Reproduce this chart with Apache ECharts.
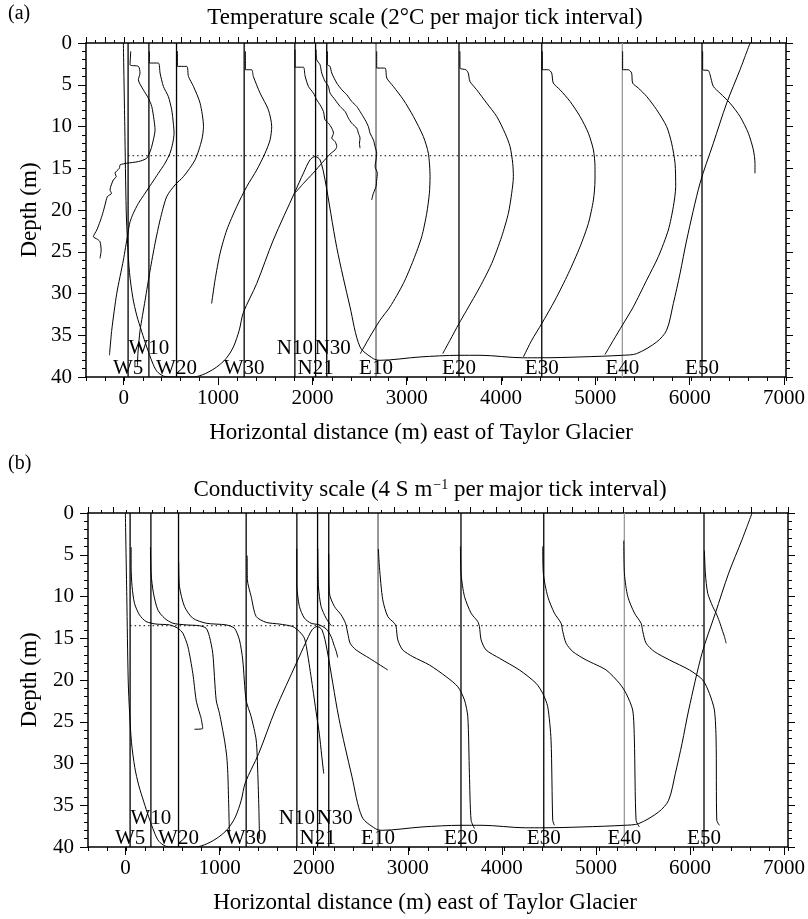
<!DOCTYPE html>
<html><head><meta charset="utf-8">
<script src="https://cdn.jsdelivr.net/npm/echarts@6/dist/echarts.min.js"></script>
<style>html,body{margin:0;padding:0;background:#fff}#c{width:808px;height:919px}</style>
</head><body><div id="c"></div>
<script>
// ---------- DATA ----------
const stationNames = ['W5','W10','W20','W30','N10','N21','N30','E10','E20','E30','E40','E50'];
const stationX = [45,265,557,1272,1808,2027,2145,2666,3543,4418,5270,6112];
const xTickLabels = [0,1000,2000,3000,4000,5000,6000,7000];
const depthTickLabels = [0,5,10,15,20,25,30,35,40];
const chemoclineDepth = 13.5;

// lake-bottom / transect line [x (m), depth (m)]
const bottomLine = [[-5,0],[10,10],[25,20],[40,24],[60,27.5],[95,30.5],[136,32.6],[190,34.6],[242,36.4],[300,38.2],[348,39.3],[420,39.9],[488,40],[735,40],[860,39.6],[982,38.8],[1080,37.8],[1158,36.4],[1220,34.4],[1263,32.3],[1405,28.8],[1580,23.6],[1810,17.8],[1898,15.6],[1968,14.0],[2021,13.6],[2074,14.0],[2127,16.4],[2251,24.5],[2391,31.6],[2497,36.4],[2638,37.8],[2708,38.0],[3131,37.6],[3543,37.4],[3765,37.4],[4223,37.7],[4418,37.7],[4823,37.6],[5270,37.4],[5421,37.2],[5633,35.8],[5738,34.4],[5809,31.2],[5880,27.6],[5950,23.6],[6091,16.8],[6232,12.0],[6373,7.2],[6514,3.2],[6620,0]];

// (a) temperature profiles, plotted position [x (m), depth (m)]
const tempW5 = [[73,1.0],[66,2.6],[154,2.8],[171,3.6],[154,4.4],[206,5.6],[259,6.6],[295,7.6],[319,9.2],[330,10.4],[312,11.6],[284,12.8],[242,13.8],[154,14.2],[31,14.4],[-40,14.6],[-47,15.0],[-93,15.6],[-80,16.0],[-111,16.4],[-146,17.6],[-130,18.0],[-174,18.4],[-199,19.4],[-223,20.4],[-252,21.4],[-286,22.4],[-322,23.2],[-280,23.5],[-252,23.8],[-240,24.8],[-252,25.8]];
const tempW10 = [[270,1.0],[270,2.4],[365,2.4],[383,3.6],[418,5.2],[470,6.4],[506,8.0],[523,9.6],[531,10.8],[517,12.0],[488,13.2],[435,14.4],[365,15.6],[295,16.8],[224,18.0],[154,19.2],[100,20.4],[66,21.4],[40,23.0],[-5,26],[-75,30],[-128,34.4],[-152,37.4]];
const tempW20 = [[566,1.0],[566,2.8],[665,2.8],[683,4.0],[736,5.2],[806,7.2],[842,10.0],[824,11.6],[753,14.0],[630,16.0],[541,17.0],[453,18.4],[383,21.2],[330,24.0],[278,27.2],[225,30.8],[172,34.4],[150,37.0],[143,38.7]];
const tempW30 = [[1285,1.0],[1285,3.2],[1351,3.2],[1369,4.0],[1440,6.0],[1528,8.0],[1563,10.0],[1546,11.6],[1493,13.2],[1405,15.2],[1299,17.2],[1193,19.6],[1088,22.4],[1017,25.2],[964,28.4],[928,31.2]];
const tempN10 = [[1810,0.8],[1810,2.9],[1898,2.9],[1915,3.9],[1951,5.2],[2004,6.0],[2039,6.8],[2074,7.4],[2110,8.2],[2127,9.2],[2163,9.6],[2198,10.2],[2216,10.8],[2198,11.4],[2233,11.8],[2251,12.4],[2233,12.8],[2180,13.3],[2100,14.3],[2000,15.6],[1900,16.8],[1815,17.9]];
const tempN21 = [[2032,0.8],[2039,2.0],[2074,2.6],[2092,3.6],[2127,4.6],[2163,5.2],[2180,6.0],[2233,6.8],[2286,7.6],[2339,8.2],[2374,9.0],[2409,9.6],[2462,10.2],[2480,10.8],[2497,11.4],[2491,12.0],[2497,12.6]];
const tempN30 = [[2152,1.0],[2152,2.6],[2180,2.8],[2198,3.6],[2251,4.8],[2304,5.6],[2357,6.2],[2409,7.0],[2462,7.6],[2497,8.2],[2550,9.2],[2585,10.0],[2603,10.8],[2638,11.6],[2656,12.4],[2673,13.2],[2666,14.0],[2656,14.8],[2680,15.6],[2673,16.4],[2666,17.2],[2638,18.0],[2620,18.8]];
const tempE10 = [[2673,1.0],[2673,3.0],[2761,3.0],[2780,4.2],[2849,5.2],[2955,6.8],[3061,8.8],[3166,11.2],[3219,13.2],[3237,16.0],[3230,18.0],[3202,20.4],[3149,23.2],[3061,26.0],[2955,28.8],[2814,31.6],[2708,33.2],[2600,35.2],[2500,37.2]];
const tempE20 = [[3553,1.0],[3553,3.0],[3616,3.2],[3641,3.6],[3659,4.6],[3730,5.6],[3836,7.2],[3942,8.8],[4030,10.8],[4083,12.4],[4111,14.4],[4118,16.0],[4100,18.0],[4065,20.4],[3994,23.2],[3889,26.4],[3765,29.2],[3624,32.0],[3543,33.6],[3448,35.6],[3371,37.2]];
const tempE30 = [[4424,1.0],[4424,3.2],[4488,3.2],[4523,3.6],[4540,4.8],[4611,5.6],[4717,7.0],[4823,8.8],[4911,10.8],[4964,12.8],[4981,14.8],[4981,16.4],[4964,18.8],[4911,21.6],[4823,24.4],[4699,27.6],[4558,30.8],[4418,33.6],[4312,35.6],[4224,37.6]];
const tempE40 = [[5273,1.0],[5273,3.2],[5333,3.2],[5368,3.6],[5379,4.8],[5439,5.4],[5527,6.4],[5633,8.0],[5738,10.0],[5791,12.0],[5827,14.4],[5834,17.2],[5809,19.6],[5756,22.4],[5650,25.6],[5527,28.4],[5386,31.6],[5270,33.8],[5175,35.6],[5087,37.3]];
const tempE50 = [[6119,1.0],[6119,3.2],[6179,3.3],[6197,3.8],[6232,5.2],[6302,6.0],[6408,7.2],[6514,8.8],[6602,10.8],[6655,12.8],[6672,14.4],[6672,15.6]];

// (b) conductivity profiles, plotted position [x (m), depth (m)]
const condW5 = [[56,4.1],[56,6.5],[66,8.8],[91,10.8],[144,12.2],[214,13.0],[320,13.3],[462,13.4],[550,13.8],[603,14.4],[656,16.0],[708,19.2],[743,22.4],[770,23.6],[796,24.6],[813,25.8],[725,25.9]];
const condW10 = [[260,4.1],[267,7.3],[292,9.6],[338,11.6],[409,12.6],[497,13.2],[638,13.4],[779,13.5],[849,13.8],[884,14.8],[919,16.8],[955,22.4],[990,24.0],[1043,27.2],[1067,29.2],[1078,31.2],[1088,35.2],[1095,38.4]];
const condW20 = [[559,5.9],[567,8.8],[620,11.2],[708,12.6],[849,13.2],[1060,13.4],[1148,13.8],[1201,15.2],[1236,17.6],[1271,22.4],[1325,24.4],[1378,27.2],[1395,31.2],[1406,35.2],[1413,39.0]];
const condW30 = [[1283,5.1],[1285,8.0],[1325,10.0],[1378,12.4],[1484,13.1],[1624,13.3],[1765,13.6],[1835,14.2],[1888,15.0],[1923,17.0],[1950,19.0],[1976,21.0],[2011,23.8],[2046,26.5],[2070,29.0],[2092,31.2]];
const condN10 = [[1807,4.3],[1807,8.4],[1835,11.2],[1888,12.6],[1958,13.2],[2046,13.4],[2120,13.9],[2170,14.8],[2200,15.8],[2225,16.6],[2240,17.3]];
const condN21 = [[2029,4.3],[2036,8.8],[2064,11.2],[2117,12.6],[2152,13.2],[2175,13.5]];
const condN30 = [[2145,4.9],[2152,9.6],[2205,11.2],[2276,12.2],[2322,13.2],[2346,14.4],[2371,15.6],[2434,16.4],[2575,17.4],[2769,18.8]];
const condE10 = [[2670,4.3],[2681,6.5],[2716,10.4],[2769,12.4],[2839,13.2],[2857,13.6],[2875,15.2],[2927,16.4],[3033,17.2],[3209,18.2],[3386,19.6],[3509,20.8],[3580,22.4],[3615,24.4],[3632,31.2],[3650,36.8],[3686,37.8]];
const condE20 = [[3537,4.0],[3544,7.3],[3580,10.0],[3650,12.0],[3720,13.0],[3738,13.6],[3756,15.2],[3808,16.4],[3950,17.4],[4161,18.8],[4337,20.4],[4407,21.6],[4460,23.2],[4495,27.2],[4513,36.8],[4530,37.4]];
const condE30 = [[4407,4.0],[4414,7.3],[4460,10.0],[4531,12.0],[4601,13.2],[4619,14.2],[4654,15.6],[4725,16.6],[4866,17.6],[5077,18.8],[5218,20.4],[5288,21.6],[5358,23.6],[5376,27.2],[5394,36.8],[5429,37.6]];
const condE40 = [[5264,3.3],[5271,7.3],[5306,10.0],[5377,12.0],[5447,13.2],[5465,14.2],[5500,15.6],[5588,16.6],[5747,17.6],[5958,18.8],[6099,20.0],[6169,21.6],[6222,23.6],[6240,27.2],[6247,36.8],[6275,37.4]];
const condE50 = [[6116,4.5],[6127,7.3],[6151,9.6],[6204,11.2],[6240,12.0],[6275,13.0],[6310,14.2],[6328,14.8],[6346,15.6]];

const tempProfiles = [tempW5,tempW10,tempW20,tempW30,tempN10,tempN21,tempN30,tempE10,tempE20,tempE30,tempE40,tempE50];
const condProfiles = [condW5,condW10,condW20,condW30,condN10,condN21,condN30,condE10,condE20,condE30,condE40,condE50];

// ---------- CHART ----------
const F = 'Liberation Serif';
const BLACK = '#000';
const grids = [
  {left:86, top:43, width:700, height:334},
  {left:88, top:513, width:700, height:334}
];
const topTickInterval = [19, 25.5];

const xAxis = [], yAxis = [], series = [];
const allGrids = grids.concat(grids);
const lineStyle = {color:BLACK, width:1.5};

grids.forEach((g, i) => {
  xAxis.push({gridIndex:i, type:'value', position:'bottom', min:-400, max:7000, interval:200,
    axisLine:{show:true, onZero:false, lineStyle},
    axisTick:{show:true, length:4, lineStyle:{color:BLACK, width:1}},
    axisLabel:{show:false}, splitLine:{show:false}});
  xAxis.push({gridIndex:i, type:'value', position:'top', min:0, max:700, interval:topTickInterval[i],
    axisLine:{show:true, onZero:false, lineStyle},
    axisTick:{show:true, length:6, lineStyle:{color:BLACK, width:1}},
    minorTick:{show:true, splitNumber:2, length:3, lineStyle:{color:BLACK, width:1}},
    axisLabel:{show:false}, splitLine:{show:false}, minorSplitLine:{show:false}});
  yAxis.push({gridIndex:i, type:'value', position:'left', inverse:true, min:0, max:40, interval:5,
    axisLine:{show:true, onZero:false, lineStyle},
    axisTick:{show:true, length:8, lineStyle:{color:BLACK, width:1}},
    minorTick:{show:true, splitNumber:5, length:4, lineStyle:{color:BLACK, width:1}},
    axisLabel:{show:true, margin:14, color:BLACK, fontFamily:F, fontSize:21, formatter:v => String(v)},
    splitLine:{show:false}, minorSplitLine:{show:false}});
  yAxis.push({gridIndex:i, type:'value', position:'right', inverse:true, min:0, max:40, interval:5,
    axisLine:{show:true, onZero:false, lineStyle},
    axisTick:{show:true, length:7, lineStyle:{color:BLACK, width:1}},
    minorTick:{show:true, splitNumber:5, length:4, lineStyle:{color:BLACK, width:1}},
    axisLabel:{show:false}, splitLine:{show:false}, minorSplitLine:{show:false}});
});
grids.forEach((g, i) => {
  xAxis.push({gridIndex:2+i, type:'value', position:'bottom', min:-400, max:7000,
    axisLine:{show:false, onZero:false},
    axisTick:{show:true, length:8, customValues:xTickLabels, lineStyle:{color:BLACK, width:1}},
    axisLabel:{show:true, customValues:xTickLabels, margin:11, color:BLACK, fontFamily:F, fontSize:21, formatter:v => String(v)},
    splitLine:{show:false}});
  yAxis.push({gridIndex:2+i, type:'value', show:false, min:0, max:40, inverse:true});
});

function addLine(panel, data, opts) {
  opts = opts || {};
  series.push({type:'line', xAxisIndex:panel*2, yAxisIndex:panel*2, data,
    symbol:'none', showSymbol:false, smooth:opts.smooth === undefined ? 0.25 : opts.smooth,
    silent:true, z:opts.z || 3,
    lineStyle:{color:opts.color || BLACK, width:opts.width || 1, type:opts.type || 'solid'}});
}

[0,1].forEach(p => {
  stationNames.forEach((n, k) => {
    addLine(p, [[stationX[k],0],[stationX[k],40]], {
      smooth:0, z:2,
      color: n === 'E40' ? '#9a9a9a' : BLACK,
      width: n === 'E10' ? 0.8 : 1.3});
  });
  addLine(p, [[stationX[0], chemoclineDepth],[stationX[stationX.length-1], chemoclineDepth]],
    {smooth:0, type:[1.5,3], width:1});
  addLine(p, bottomLine, {smooth:0.3});
  (p === 0 ? tempProfiles : condProfiles).forEach(d => addLine(p, d, {smooth:0.25}));
  const upper = new Set(['W10','N10','N30']);
  series.push({type:'scatter', xAxisIndex:p*2, yAxisIndex:p*2, silent:true, z:5,
    symbol:'circle', symbolSize:0.01, itemStyle:{color:BLACK, opacity:1},
    data: stationNames.map((n,k) => ({value:[stationX[k], upper.has(n) ? 36.6 : 39.0], name:n,
      label:{offset: n === 'N30' ? [6,0] : [0,0]}})),
    label:{show:true, position:[0,0], align:'center', verticalAlign:'middle',
      formatter: q => q.name, color:BLACK, opacity:1,
      fontFamily:F, fontSize:21}});
});

const T = (txt, x, y, size, extra) => Object.assign({type:'text', x, y, silent:true,
  style:{text:txt, font:size + 'px "Liberation Serif"', fill:BLACK, textAlign:'center', textVerticalAlign:'middle'}}, extra || {});

const graphic = [
  {type:'text', x:8, y:14, style:{text:'(a)', font:'20px "Liberation Serif"', fill:BLACK, textVerticalAlign:'middle'}},
  {type:'text', x:8, y:464, style:{text:'(b)', font:'20px "Liberation Serif"', fill:BLACK, textVerticalAlign:'middle'}},
  T('Temperature scale (2°C per major tick interval)', 425, 18, 23),
  {type:'text', x:430, y:490, style:{text:'{a|Conductivity scale (4 S m}{s|−1}{a| per major tick interval)}', fill:BLACK, textAlign:'center', textVerticalAlign:'middle',
     rich:{a:{fontFamily:F, fontSize:23, color:BLACK, verticalAlign:'bottom'}, s:{fontFamily:F, fontSize:14, color:BLACK, verticalAlign:'bottom', padding:[0,0,9,1]}}}},
  T('Horizontal distance (m) east of Taylor Glacier', 421, 433, 23),
  T('Horizontal distance (m) east of Taylor Glacier', 425, 903, 23),
  T('Depth (m)', 30, 210, 23, {rotation:Math.PI/2}),
  T('Depth (m)', 30, 680, 23, {rotation:Math.PI/2})
];

const chart = echarts.init(document.getElementById('c'), null, {renderer:'canvas'});
chart.setOption({animation:false, backgroundColor:'#fff', grid:allGrids, xAxis, yAxis, series, graphic});
</script></body></html>
